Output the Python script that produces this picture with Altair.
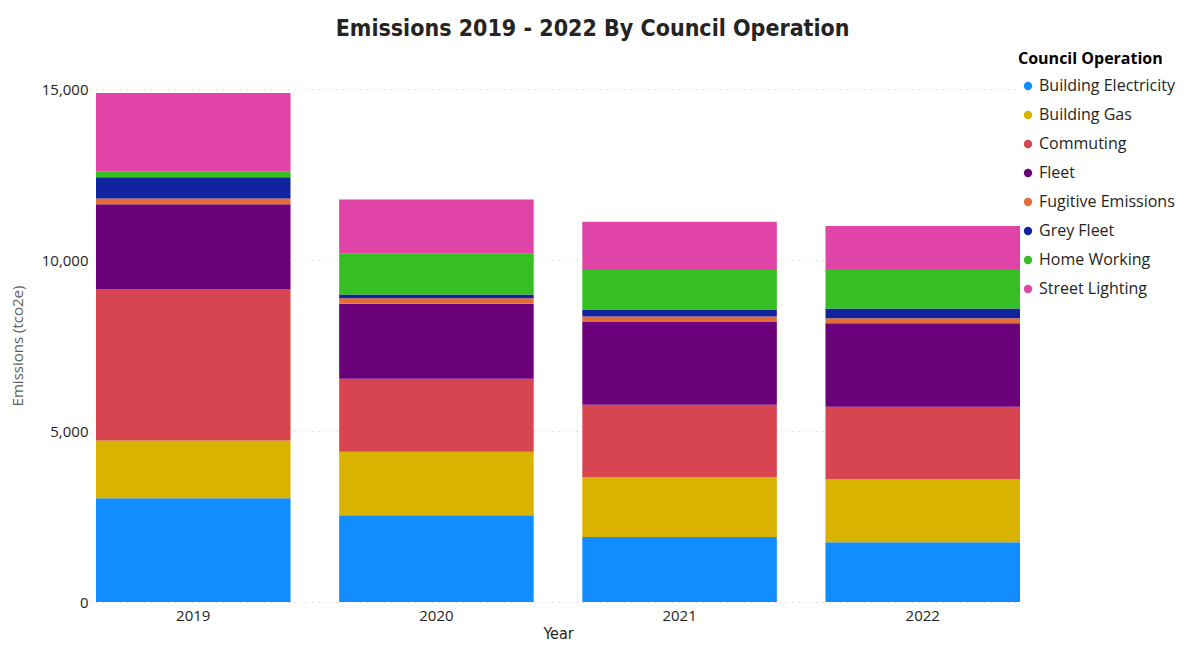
import altair as alt
import pandas as pd

years = ["2019", "2020", "2021", "2022"]
operations = ["Building Electricity", "Building Gas", "Commuting", "Fleet",
              "Fugitive Emissions", "Grey Fleet", "Home Working", "Street Lighting"]
colors = ["#118DFF", "#D9B300", "#D64550", "#6B007B",
          "#E66C37", "#12239E", "#35BF23", "#E044A7"]

building_electricity = [3030, 2540, 1900, 1750]
building_gas = [1690, 1850, 1750, 1840]
commuting = [4420, 2140, 2120, 2120]
fleet = [2490, 2190, 2420, 2440]
fugitive_emissions = [170, 165, 155, 150]
grey_fleet = [620, 105, 205, 280]
home_working = [170, 1190, 1160, 1160]
street_lighting = [2290, 1590, 1410, 1255]

series = [building_electricity, building_gas, commuting, fleet,
          fugitive_emissions, grey_fleet, home_working, street_lighting]

rows = []
for i, (op, vals) in enumerate(zip(operations, series)):
    for y, v in zip(years, vals):
        rows.append({"Year": y, "Council Operation": op, "Emissions": v, "idx": i})
df = pd.DataFrame(rows)

font = "Open Sans"

chart = alt.Chart(df).mark_bar().encode(
    x=alt.X("Year:N", title="Year",
            scale=alt.Scale(paddingInner=0.2, paddingOuter=0.0),
            axis=alt.Axis(labelAngle=0, ticks=False, domain=False,
                          labelFontSize=15, labelColor="#252423", labelFont=font,
                          labelPadding=6,
                          titleFontSize=16, titleColor="#252423",
                          titleFont="DejaVu Sans Condensed", titleFontWeight="normal",
                          titlePadding=2)),
    y=alt.Y("Emissions:Q", title="Emissions (tco2e)",
            scale=alt.Scale(domain=[0, 15000], nice=False),
            axis=alt.Axis(values=[0, 5000, 10000, 15000], format=",.0f",
                          ticks=False, domain=False,
                          grid=True, gridDash=[1, 5], gridColor="#C8C8C8",
                          labelFontSize=15, labelColor="#252423", labelFont=font,
                          labelPadding=8,
                          titleFontSize=15, titleColor="#605E5C", titleFont=font,
                          titleFontWeight="normal", titlePadding=16)),
    color=alt.Color("Council Operation:N",
                    scale=alt.Scale(domain=operations, range=colors),
                    legend=alt.Legend(title="Council Operation", orient="none",
                                      legendX=922, legendY=-38,
                                      symbolType="circle", symbolSize=70,
                                      titleFontSize=16, titleFont=font,
                                      titleFontWeight="bold", titleColor="#000000",
                                      labelFontSize=16, labelFont=font,
                                      labelColor="#252423",
                                      rowPadding=13, symbolOffset=2,
                                      labelOffset=3, titlePadding=11)),
    order=alt.Order("idx:Q", sort="ascending"),
).properties(
    width=924,
    height=513,
    title=alt.TitleParams("Emissions 2019 - 2022 By Council Operation",
                          font="DejaVu Sans Condensed", fontSize=23,
                          fontWeight="bold", color="#252423", anchor="middle",
                          frame="bounds", offset=10),
    autosize=alt.AutoSizeParams(type="none"),
    padding={"left": 88, "top": 81, "right": 160, "bottom": 42},
).configure_view(stroke=None)

chart.save("out.html", embed_options={"renderer": "svg", "actions": False})
